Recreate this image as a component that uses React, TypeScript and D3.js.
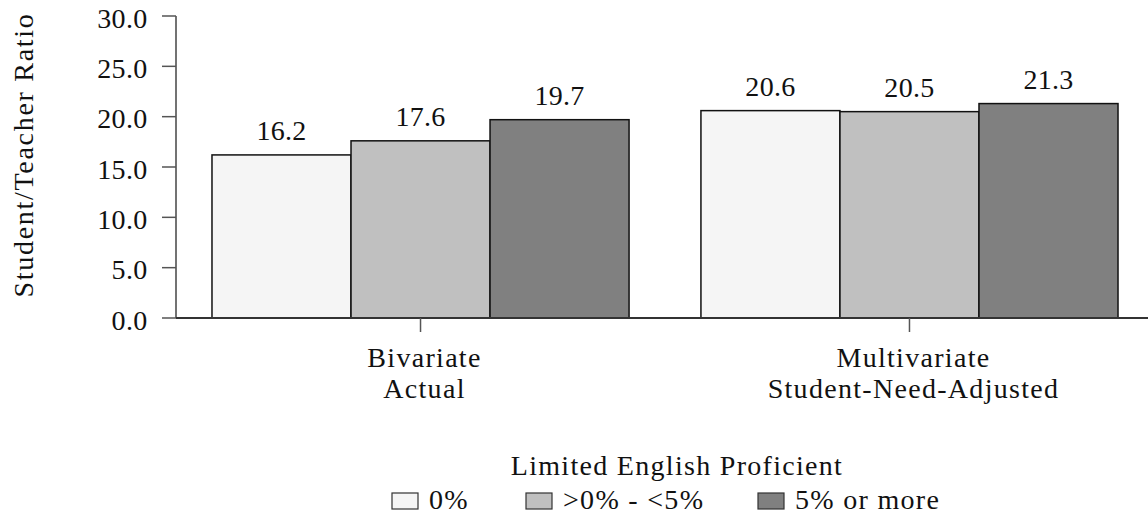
import React from "react";
import * as d3 from "d3";

const categories = ["Bivariate|Actual", "Multivariate|Student-Need-Adjusted"];
const seriesNames = ["0%", ">0% - <5%", "5% or more"];
const seriesColors = ["#f5f5f5", "#c0c0c0", "#808080"];
const lepZero = [16.2, 20.6];
const lepUnderFive = [17.6, 20.5];
const lepFivePlus = [19.7, 21.3];
const yTicks = [0, 5, 10, 15, 20, 25, 30];
const legendTitle = "Limited English Proficient";
const yTitle = "Student/Teacher Ratio";

const series = [lepZero, lepUnderFive, lepFivePlus];

const W = 1148;
const H = 519;
const FS = 28;
const LS = 1.3;
const FAM = '"Liberation Serif", "Times New Roman", Times, serif';
const textStyle: React.CSSProperties = {
  fontFamily: FAM,
  fontSize: `${FS}px`,
  letterSpacing: `${LS}px`,
};
const numStyle: React.CSSProperties = {
  fontFamily: FAM,
  fontSize: `${FS}px`,
  letterSpacing: "0.3px",
};
const titleStyle: React.CSSProperties = {
  fontFamily: FAM,
  fontSize: `${FS}px`,
  letterSpacing: "1.7px",
};

export default function App() {
  const y = d3.scaleLinear().domain([0, 30]).range([318, 16]);
  const x0 = d3
    .scaleBand<string>()
    .domain(categories)
    .range([176, 1154])
    .paddingInner(0.147)
    .paddingOuter(0.0736);
  const x1 = d3
    .scaleBand<number>()
    .domain(seriesNames.map((_, i) => i))
    .range([0, x0.bandwidth()]);

  const legendX = [392, 526, 758];

  return (
    <svg
      width={W}
      height={H}
      style={{ position: "absolute", left: 0, top: 0, background: "#fff" }}
    >
      {/* y axis */}
      <line x1={176} x2={176} y1={y(30)} y2={y(0)} stroke="#444" strokeWidth={1.5} />
      {yTicks.map((t) => (
        <g key={t}>
          <line x1={162} x2={176} y1={y(t)} y2={y(t)} stroke="#555" strokeWidth={1.5} />
          <text x={147.5} y={y(t) + 11.5} textAnchor="end" fill="#111" style={numStyle}>
            {t.toFixed(1)}
          </text>
        </g>
      ))}
      <text
        transform={`translate(33,155) rotate(-90)`}
        textAnchor="middle"
        fill="#111"
        style={titleStyle}
      >
        {yTitle}
      </text>

      {/* bars */}
      {categories.map((c, ci) => (
        <g key={c} transform={`translate(${x0(c)},0)`}>
          {series.map((vals, si) => (
            <g key={si}>
              <rect
                x={x1(si)}
                y={y(vals[ci])}
                width={x1.bandwidth()}
                height={y(0) - y(vals[ci])}
                fill={seriesColors[si]}
                stroke="#111"
                strokeWidth={1.5}
              />
              <text
                x={(x1(si) as number) + x1.bandwidth() / 2}
                y={y(vals[ci]) - 15}
                textAnchor="middle"
                fill="#111"
                style={numStyle}
              >
                {vals[ci].toFixed(1)}
              </text>
            </g>
          ))}
        </g>
      ))}

      {/* x axis */}
      <line x1={176} x2={W} y1={y(0)} y2={y(0)} stroke="#333" strokeWidth={2} />
      {categories.map((c) => {
        const cx = (x0(c) as number) + x0.bandwidth() / 2;
        const [l1, l2] = c.split("|");
        return (
          <g key={c}>
            <line x1={cx} x2={cx} y1={y(0)} y2={y(0) + 14} stroke="#555" strokeWidth={1.5} />
            <text x={cx + 4} y={367} textAnchor="middle" fill="#111" style={textStyle}>
              {l1}
            </text>
            <text x={cx + 4} y={398} textAnchor="middle" fill="#111" style={textStyle}>
              {l2}
            </text>
          </g>
        );
      })}

      {/* legend */}
      <text x={677} y={475} textAnchor="middle" fill="#111" style={textStyle}>
        {legendTitle}
      </text>
      {seriesNames.map((n, i) => (
        <g key={n}>
          <rect
            x={legendX[i]}
            y={493}
            width={26}
            height={16}
            fill={seriesColors[i]}
            stroke="#333"
            strokeWidth={1.2}
          />
          <text x={legendX[i] + 37} y={509} fill="#111" style={textStyle}>
            {n}
          </text>
        </g>
      ))}
    </svg>
  );
}
